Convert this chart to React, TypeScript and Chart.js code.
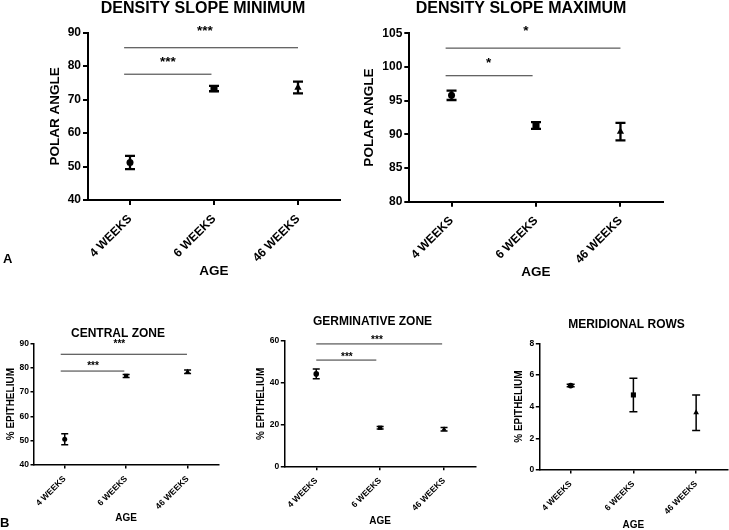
import React, { useEffect, useRef } from 'react';
import { Chart, registerables } from 'chart.js';

Chart.register(...registerables);

const FONT = "'Liberation Sans', Arial, Helvetica, sans-serif";

// ---------- data ----------
const categories = ['4 WEEKS', '6 WEEKS', '46 WEEKS'];
const markerStyles = ['circle', 'rect', 'triangle'];

const slopeMinMeans = [51.2, 73.3, 73.6];
const slopeMinErrors = [2.0, 0.8, 1.75];
const slopeMinBrackets = [[-0.07, 0.97, 77.6], [-0.07, 2.0, 85.5]];
const slopeMinStars: [number, number, string][] = [[0.45, 81.8, '***'], [0.89, 91.1, '***']];
const slopeMinTicks = [40, 90, 10];

const slopeMaxMeans = [95.8, 91.3, 90.4];
const slopeMaxErrors = [0.7, 0.5, 1.3];
const slopeMaxBrackets = [[-0.07, 0.96, 98.7], [-0.07, 2.0, 102.8]];
const slopeMaxStars: [number, number, string][] = [[0.44, 100.9, '*'], [0.88, 105.6, '*']];
const slopeMaxTicks = [80, 105, 5];

const centralMeans = [50.6, 76.6, 78.3];
const centralErrors = [2.25, 0.6, 0.7];
const centralBrackets = [[-0.065, 0.97, 78.6], [-0.065, 1.99, 85.5]];
const centralStars: [number, number, string][] = [[0.46, 82.0, '***'], [0.89, 90.7, '***']];
const centralTicks = [40, 90, 10];

const germMeans = [44.3, 18.6, 17.9];
const germErrors = [2.3, 0.6, 0.8];
const germBrackets = [[0.0, 0.94, 50.9], [0.0, 1.97, 58.6]];
const germStars: [number, number, string][] = [[0.48, 53.7, '***'], [0.95, 61.6, '***']];
const germTicks = [0, 60, 20];

const meridMeans = [5.33, 4.74, 3.62];
const meridErrors = [0.08, 1.06, 1.12];
const meridBrackets: number[][] = [];
const meridStars: [number, number, string][] = [];
const meridTicks = [0, 8, 2];

// ---------- layout / styles ----------
type Spec = {
  box: [number, number, number, number];
  padRight: number;
  yWidth: number;
  xHeight: number;
  title: string;
  titleSize: number;
  titlePadTop: number;
  titlePadBottom: number;
  yTitle: string;
  yTitleSize: number;
  yTitlePad: number;
  xTitleSize: number;
  xTitlePadBottom: number;
  tickSize: number;
  tickLen: number;
  tickPad: number;
  xTickPad: number;
  axisWidth: number;
  yTicks: number[];
  means: number[];
  errors: number[];
  brackets: number[][];
  stars: [number, number, string][];
  starSize: number;
  starShift: number;
  radii: number[];
  capWidth: number;
  barWidth: number;
};

const bigStyle = {
  titleSize: 16, yTitleSize: 13.5, xTitleSize: 13.5, tickSize: 12,
  tickLen: 5, tickPad: 2, xTickPad: 7, axisWidth: 2, starSize: 13.5, starShift: 0.44,
  radii: [3.5, 5, 4.2], capWidth: 10, barWidth: 2.3,
};
const smallStyle = {
  titleSize: 12, yTitleSize: 10, xTitleSize: 10, tickSize: 8.5,
  tickLen: 3.5, tickPad: 1.5, xTickPad: 5.5, axisWidth: 1.5, starSize: 10, starShift: 0.58,
  capWidth: 7, barWidth: 1.5,
};

const panels: Spec[] = [
  {
    ...bigStyle,
    box: [0, 0, 406, 280], padRight: 66, yWidth: 88, xHeight: 80,
    title: 'DENSITY SLOPE MINIMUM', titlePadTop: 1, titlePadBottom: 15.7,
    yTitle: 'POLAR ANGLE', yTitlePad: 47, xTitlePadBottom: 0.5,
    yTicks: slopeMinTicks, means: slopeMinMeans, errors: slopeMinErrors,
    brackets: slopeMinBrackets, stars: slopeMinStars,
  },
  {
    ...bigStyle,
    box: [340, 0, 362, 280], padRight: 39.3, yWidth: 69.3, xHeight: 78.3,
    title: 'DENSITY SLOPE MAXIMUM', titlePadTop: 1, titlePadBottom: 16.3,
    yTitle: 'POLAR ANGLE', yTitlePad: 20.9, xTitlePadBottom: 0,
    yTicks: slopeMaxTicks, means: slopeMaxMeans, errors: slopeMaxErrors,
    brackets: slopeMaxBrackets, stars: slopeMaxStars,
  },
  {
    ...smallStyle,
    radii: [2.5, 3, 3],
    box: [0, 300, 236, 230], padRight: 17.7, yWidth: 34, xHeight: 65,
    title: 'CENTRAL ZONE', titlePadTop: 27.3, titlePadBottom: 4,
    yTitle: '% EPITHELIUM', yTitlePad: 4.8, xTitlePadBottom: 6,
    yTicks: centralTicks, means: centralMeans, errors: centralErrors,
    brackets: centralBrackets, stars: centralStars,
  },
  {
    ...smallStyle,
    radii: [2.8, 3, 3],
    box: [250, 300, 245, 230], padRight: 19, yWidth: 34.3, xHeight: 63.3,
    title: 'GERMINATIVE ZONE', titlePadTop: 15.7, titlePadBottom: 13.3,
    yTitle: '% EPITHELIUM', yTitlePad: 4.8, xTitlePadBottom: 2.3,
    yTicks: germTicks, means: germMeans, errors: germErrors,
    brackets: germBrackets, stars: germStars,
  },
  {
    ...smallStyle,
    radii: [2.9, 3.6, 3.3], capWidth: 8,
    box: [510, 300, 233, 234], padRight: 15.5, yWidth: 29.3, xHeight: 64,
    title: 'MERIDIONAL ROWS', titlePadTop: 19, titlePadBottom: 12.3,
    yTitle: '% EPITHELIUM', yTitlePad: 3.2, xTitlePadBottom: 3,
    yTicks: meridTicks, means: meridMeans, errors: meridErrors,
    brackets: meridBrackets, stars: meridStars,
  },
];

function makeConfig(s: Spec): any {
  const errorBars = {
    id: 'errorBars',
    beforeDatasetsDraw(chart: any) {
      const { ctx } = chart;
      const x = chart.scales.x;
      const y = chart.scales.y;
      ctx.save();
      ctx.strokeStyle = '#000';
      ctx.lineWidth = s.barWidth;
      s.means.forEach((m, i) => {
        const px = x.getPixelForValue(i);
        const top = y.getPixelForValue(m + s.errors[i]);
        const bot = y.getPixelForValue(m - s.errors[i]);
        ctx.beginPath();
        ctx.moveTo(px, top);
        ctx.lineTo(px, bot);
        ctx.moveTo(px - s.capWidth / 2, top);
        ctx.lineTo(px + s.capWidth / 2, top);
        ctx.moveTo(px - s.capWidth / 2, bot);
        ctx.lineTo(px + s.capWidth / 2, bot);
        ctx.stroke();
      });
      ctx.restore();
    },
  };
  const starLabels = {
    id: 'starLabels',
    afterDatasetsDraw(chart: any) {
      const { ctx } = chart;
      const x = chart.scales.x;
      const y = chart.scales.y;
      ctx.save();
      ctx.fillStyle = '#000';
      ctx.font = `bold ${s.starSize}px ${FONT}`;
      ctx.textAlign = 'center';
      ctx.textBaseline = 'alphabetic';
      s.stars.forEach(([sx, sy, txt]) => {
        ctx.fillText(txt, x.getPixelForValue(sx), y.getPixelForValue(sy) + s.starShift * s.starSize);
      });
      ctx.restore();
    },
  };

  const datasets: any[] = [
    {
      data: s.means.map((m, i) => ({ x: i, y: m })),
      xAxisID: 'x',
      yAxisID: 'y',
      pointStyle: markerStyles,
      pointRadius: s.radii,
      backgroundColor: '#000',
      borderColor: '#000',
      borderWidth: 0,
      showLine: false,
      clip: false,
    },
    ...s.brackets.map((b) => ({
      data: [{ x: b[0], y: b[2] }, { x: b[1], y: b[2] }],
      xAxisID: 'x',
      yAxisID: 'y',
      showLine: true,
      borderColor: '#333',
      borderWidth: 1,
      pointRadius: 0,
      clip: false,
    })),
  ];

  const tickFont = { family: FONT, size: s.tickSize, weight: 'bold' as const };

  return {
    type: 'scatter',
    data: { datasets },
    options: {
      animation: false,
      responsive: false,
      maintainAspectRatio: false,
      events: [],
      layout: { padding: 0 },
      plugins: {
        legend: { display: false },
        tooltip: { enabled: false },
        title: {
          display: true,
          text: s.title,
          color: '#000',
          font: { family: FONT, size: s.titleSize, weight: 'bold', lineHeight: 1 },
          padding: { top: s.titlePadTop, bottom: s.titlePadBottom },
        },
      },
      scales: {
        x: {
          type: 'linear',
          position: 'bottom',
          min: -0.5,
          max: 2.5,
          bounds: 'data',
          afterBuildTicks: (sc: any) => {
            sc.ticks = categories.map((_, i) => ({ value: i }));
          },
          afterFit: (sc: any) => {
            sc.height = s.xHeight;
          },
          ticks: {
            autoSkip: false,
            minRotation: 45,
            maxRotation: 45,
            color: '#000',
            font: tickFont,
            padding: s.xTickPad,
            callback: (v: any) => categories[v] ?? '',
          },
          grid: {
            display: true,
            drawOnChartArea: false,
            drawTicks: true,
            tickLength: s.tickLen,
            color: '#000',
            lineWidth: s.axisWidth,
          },
          border: { display: true, color: '#000', width: s.axisWidth },
          title: {
            display: true,
            text: 'AGE',
            color: '#000',
            font: { family: FONT, size: s.xTitleSize, weight: 'bold', lineHeight: 1.2 },
            padding: { top: 0, bottom: s.xTitlePadBottom },
          },
        },
        y: {
          type: 'linear',
          position: 'left',
          min: s.yTicks[0],
          max: s.yTicks[1],
          afterFit: (sc: any) => {
            sc.width = s.yWidth;
          },
          ticks: {
            stepSize: s.yTicks[2],
            color: '#000',
            font: tickFont,
            padding: s.tickPad,
          },
          grid: {
            display: true,
            drawOnChartArea: false,
            drawTicks: true,
            tickLength: s.tickLen,
            color: '#000',
            lineWidth: s.axisWidth,
          },
          border: { display: true, color: '#000', width: s.axisWidth },
          title: {
            display: true,
            text: s.yTitle,
            color: '#000',
            font: { family: FONT, size: s.yTitleSize, weight: 'bold', lineHeight: 1.2 },
            padding: { top: s.yTitlePad, bottom: 0 },
          },
        },
        spacer: {
          type: 'linear',
          position: 'right',
          display: true,
          afterFit: (sc: any) => {
            sc.width = s.padRight;
          },
          ticks: { display: false },
          grid: { display: false, drawTicks: false },
          border: { display: false },
          title: { display: false },
        },
      },
    },
    plugins: [errorBars, starLabels],
  };
}

function Panel({ spec }: { spec: Spec }) {
  const ref = useRef<HTMLCanvasElement | null>(null);
  useEffect(() => {
    if (!ref.current) return;
    const chart = new Chart(ref.current, makeConfig(spec));
    return () => chart.destroy();
  }, [spec]);
  const [l, t, w, h] = spec.box;
  return (
    <canvas
      ref={ref}
      width={w}
      height={h}
      style={{ position: 'absolute', left: l, top: t, width: w, height: h }}
    />
  );
}

export default function App() {
  const letter = (txt: string, l: number, t: number) => (
    <div
      style={{
        position: 'absolute', left: l, top: t, font: `bold 13px ${FONT}`,
        color: '#000', lineHeight: '13px',
      }}
    >
      {txt}
    </div>
  );
  return (
    <div
      style={{
        position: 'absolute', left: 0, top: 0, width: 729, height: 530,
        overflow: 'hidden', background: '#fff',
      }}
    >
      {panels.map((p, i) => (
        <Panel key={i} spec={p} />
      ))}
      {letter('A', 3, 252)}
      {letter('B', 0, 516)}
    </div>
  );
}
